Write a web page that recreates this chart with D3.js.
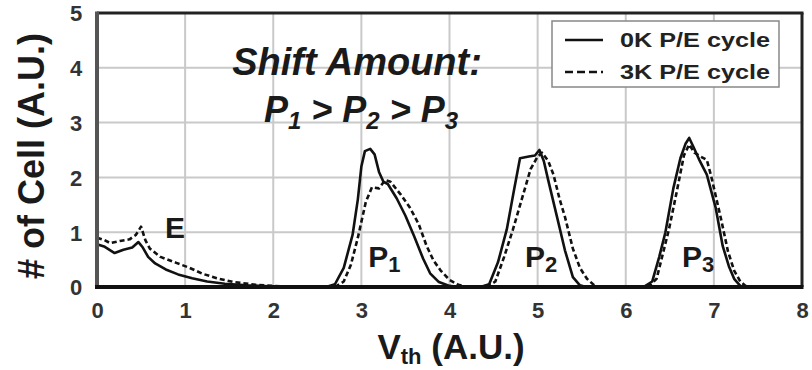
<!DOCTYPE html>
<html>
<head>
<meta charset="utf-8">
<script src="https://cdn.jsdelivr.net/npm/d3@7"></script>
<style>
  html, body { margin: 0; padding: 0; background: #fff; }
  svg { display: block; font-family: "Liberation Sans", Arial, Helvetica, sans-serif; }
</style>
</head>
<body>
<svg id="chart" width="812" height="370"></svg>
<script>
// Threshold-voltage distributions, [Vth, # of cells] pairs
const erase0K = [[0,0.78],[0.08,0.74],[0.2,0.62],[0.3,0.68],[0.4,0.72],[0.47,0.82],[0.52,0.72],[0.58,0.55],[0.66,0.43],[0.78,0.32],[0.92,0.23],[1.08,0.16],[1.25,0.1],[1.45,0.06],[1.7,0.03],[2.0,0.01],[2.3,0]];
const erase3K = [[0,0.9],[0.08,0.86],[0.15,0.8],[0.26,0.84],[0.37,0.87],[0.44,0.95],[0.5,1.1],[0.55,0.85],[0.6,0.7],[0.72,0.55],[0.9,0.44],[1.05,0.35],[1.2,0.24],[1.36,0.16],[1.55,0.09],[1.8,0.04],[2.1,0.01],[2.4,0]];
const prog1_0K = [[2.6,0],[2.7,0.05],[2.8,0.35],[2.9,0.95],[2.96,1.6],[3.0,2.2],[3.04,2.48],[3.1,2.52],[3.15,2.42],[3.2,2.1],[3.25,1.92],[3.3,1.88],[3.4,1.62],[3.5,1.3],[3.6,0.92],[3.7,0.52],[3.78,0.25],[3.88,0.09],[4.0,0.02],[4.1,0]];
const prog1_3K = [[2.7,0],[2.8,0.1],[2.88,0.4],[2.96,0.9],[3.05,1.55],[3.12,1.82],[3.2,1.8],[3.27,1.95],[3.33,1.92],[3.45,1.68],[3.55,1.45],[3.65,1.15],[3.74,0.75],[3.82,0.48],[3.9,0.3],[4.0,0.13],[4.1,0.04],[4.2,0]];
const prog2_0K = [[4.35,0],[4.45,0.05],[4.55,0.45],[4.65,1.05],[4.73,1.75],[4.8,2.35],[4.9,2.38],[4.97,2.4],[5.02,2.5],[5.07,2.3],[5.12,1.95],[5.22,1.28],[5.31,0.67],[5.4,0.18],[5.48,0.03],[5.55,0]];
const prog2_3K = [[4.42,0],[4.52,0.1],[4.62,0.55],[4.72,1.05],[4.82,1.6],[4.92,2.15],[5.0,2.38],[5.05,2.45],[5.12,2.3],[5.18,2.05],[5.25,1.6],[5.31,1.28],[5.4,0.7],[5.48,0.35],[5.56,0.15],[5.65,0.02],[5.72,0]];
const prog3_0K = [[6.2,0],[6.3,0.1],[6.38,0.55],[6.45,1.0],[6.54,1.8],[6.62,2.35],[6.68,2.62],[6.72,2.72],[6.77,2.55],[6.84,2.3],[6.92,2.05],[6.97,1.75],[7.02,1.45],[7.1,0.75],[7.17,0.38],[7.23,0.15],[7.3,0.02],[7.36,0]];
const prog3_3K = [[6.25,0],[6.35,0.15],[6.42,0.6],[6.49,1.05],[6.58,1.75],[6.66,2.4],[6.72,2.6],[6.78,2.45],[6.85,2.38],[6.92,2.32],[6.97,2.02],[7.03,1.6],[7.08,1.25],[7.16,0.65],[7.23,0.3],[7.3,0.1],[7.36,0.02],[7.42,0]];

const xTicks = [0, 1, 2, 3, 4, 5, 6, 7, 8];
const yTicks = [0, 1, 2, 3, 4, 5];
const legendLabels = ["0K P/E cycle", "3K P/E cycle"];
const stateLabels = [["E", "", 0.885, 0.9], ["P", "1", 3.26, 0.37], ["P", "2", 5.04, 0.37], ["P", "3", 6.82, 0.37]];

const svg = d3.select("#chart");
const plotL = 97, plotR = 802, plotT = 13, plotB = 287;

const x = d3.scaleLinear().domain([0, 8]).range([plotL, plotR]);
const y = d3.scaleLinear().domain([0, 5]).range([plotB, plotT]);

// grid
const grid = svg.append("g").attr("stroke", "#c9c9c9").attr("stroke-width", 2);
grid.selectAll("line.v").data(xTicks.slice(1, -1)).join("line").attr("class", "v")
  .attr("x1", d => x(d)).attr("x2", d => x(d)).attr("y1", plotT).attr("y2", plotB);
grid.selectAll("line.h").data(yTicks.slice(1, -1)).join("line").attr("class", "h")
  .attr("x1", plotL).attr("x2", plotR).attr("y1", d => y(d)).attr("y2", d => y(d));

// curves
const line = d3.line().x(d => x(d[0])).y(d => y(d[1]));
const solid = [erase0K, prog1_0K, prog2_0K, prog3_0K];
const dashed = [erase3K, prog1_3K, prog2_3K, prog3_3K];
const curves = svg.append("g").attr("fill", "none").attr("stroke", "#111")
  .attr("stroke-width", 2.6).attr("stroke-linejoin", "round");
curves.selectAll("path.s").data(solid).join("path").attr("class", "s").attr("d", line);
curves.selectAll("path.d").data(dashed).join("path").attr("class", "d").attr("d", line)
  .attr("stroke-dasharray", "5,3");

// frame
svg.append("line").attr("x1", plotL).attr("x2", plotR + 1.5).attr("y1", plotT).attr("y2", plotT)
  .attr("stroke", "#222").attr("stroke-width", 3);
svg.append("line").attr("x1", plotR).attr("x2", plotR).attr("y1", plotT).attr("y2", plotB)
  .attr("stroke", "#222").attr("stroke-width", 3);
svg.append("line").attr("x1", plotL).attr("x2", plotL).attr("y1", plotT - 1.5).attr("y2", plotB)
  .attr("stroke", "#555").attr("stroke-width", 4);
svg.append("line").attr("x1", plotL - 2).attr("x2", plotR + 1.5).attr("y1", plotB).attr("y2", plotB)
  .attr("stroke", "#111").attr("stroke-width", 4);

// axes
const xAxis = svg.append("g").attr("transform", `translate(0,${plotB})`)
  .call(d3.axisBottom(x).tickValues(xTicks).tickFormat(d3.format("d")).tickSize(0).tickPadding(15));
const yAxis = svg.append("g").attr("transform", `translate(${plotL},0)`)
  .call(d3.axisLeft(y).tickValues(yTicks).tickFormat(d3.format("d")).tickSize(0).tickPadding(15));
[xAxis, yAxis].forEach(a => {
  a.select(".domain").remove();
  a.selectAll("text").attr("font-size", 22).attr("font-weight", "bold").attr("fill", "#333")
    .attr("font-family", "'Liberation Sans', Arial, sans-serif");
});
yAxis.selectAll("text").attr("text-anchor", "middle").attr("x", -21).attr("dy", "0.36em");

// axis titles
svg.append("text").attr("transform", "translate(44,156) rotate(-90)")
  .attr("text-anchor", "middle").attr("font-size", 36).attr("font-weight", "bold").attr("fill", "#1a1a1a")
  .text("# of Cell (A.U.)");
const xt = svg.append("text").attr("x", 451).attr("y", 359).attr("text-anchor", "middle")
  .attr("font-size", 35).attr("font-weight", "bold").attr("fill", "#1a1a1a");
xt.append("tspan").text("V");
xt.append("tspan").attr("font-size", 22).attr("dy", 5).text("th");
xt.append("tspan").attr("dy", -5).text(" (A.U.)");

// annotation
svg.append("text").attr("x", 357).attr("y", 75).attr("text-anchor", "middle")
  .attr("font-size", 38).attr("font-weight", "bold").attr("font-style", "italic").attr("fill", "#1a1a1a")
  .text("Shift Amount:");
const rel = svg.append("text").attr("x", 361).attr("y", 122).attr("text-anchor", "middle")
  .attr("font-size", 36).attr("font-weight", "bold").attr("font-style", "italic").attr("fill", "#1a1a1a");
["1", "2", "3"].forEach((s, i) => {
  rel.append("tspan").attr("dy", i === 0 ? 0 : -7).text((i === 0 ? "" : " > ") + "P");
  rel.append("tspan").attr("font-size", 24).attr("dy", 7).text(s);
});

// state labels
stateLabels.forEach(([main, sub, vx, vy]) => {
  const t = svg.append("text").attr("x", x(vx)).attr("y", y(vy)).attr("text-anchor", "middle")
    .attr("font-size", 30).attr("font-weight", "bold").attr("fill", "#1a1a1a");
  t.append("tspan").text(main);
  if (sub) t.append("tspan").attr("font-size", 22).attr("dy", 5).text(sub);
});

// legend
const lg = svg.append("g");
lg.append("rect").attr("x", 552).attr("y", 21).attr("width", 227).attr("height", 66)
  .attr("fill", "#fff").attr("stroke", "#888").attr("stroke-width", 1.5);
legendLabels.forEach((label, i) => {
  const ly = 40 + i * 32;
  lg.append("line").attr("x1", 565).attr("x2", 603).attr("y1", ly).attr("y2", ly)
    .attr("stroke", "#111").attr("stroke-width", 2.6)
    .attr("stroke-dasharray", i === 0 ? null : "8,4");
  lg.append("text").attr("x", 620).attr("y", ly).attr("dy", "0.36em")
    .attr("font-size", 20).attr("font-weight", "bold").attr("fill", "#222")
    .attr("textLength", 150).attr("lengthAdjust", "spacingAndGlyphs")
    .text(label);
});
</script>
</body>
</html>
